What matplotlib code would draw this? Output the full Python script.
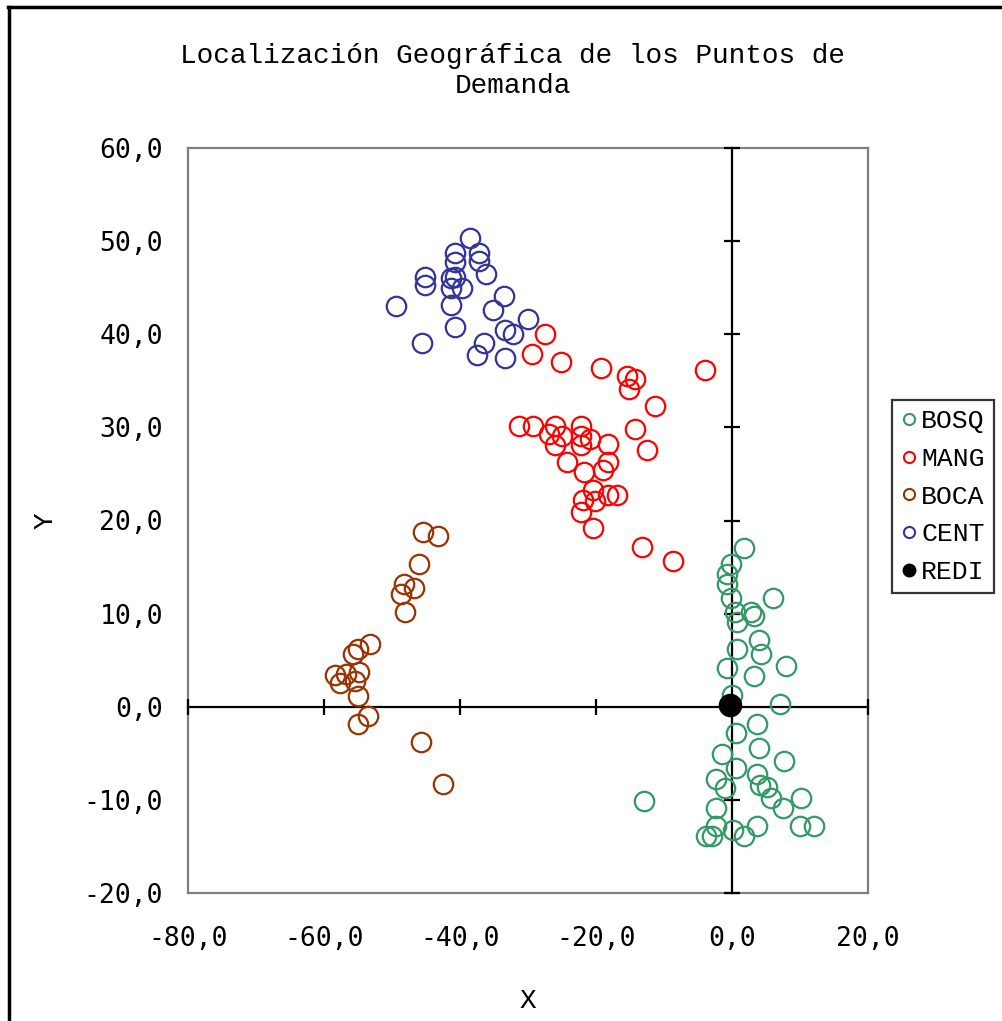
import matplotlib
matplotlib.use("Agg")
import matplotlib.pyplot as plt
from matplotlib.lines import Line2D
from matplotlib.ticker import FuncFormatter

plt.rcParams["font.family"] = ["DejaVu Sans Mono", "DejaVu Sans"]

# point coordinates
bosq_x = [1.8, -0.1, -0.8, -0.8, -0.1, 6.1, 0.5, 2.8, 3.3, 0.8, 3.9, 0.8, 4.3, 7.9,
          -0.7, 3.3, 0.0, 7.0, 3.7, 0.6, 4.0, -1.5, 7.6, 0.6, 3.7, -2.4, -1.1, 4.1,
          5.1, 5.8, 10.1, -13.0, 7.5, -2.4, -2.4, 3.7, 10.0, 12.0, 0.2, -3.8, -2.9, 1.7]
bosq_y = [17.0, 15.3, 14.3, 13.2, 11.7, 11.7, 10.2, 10.2, 9.7, 9.1, 7.2, 6.2, 5.7, 4.4,
          4.2, 3.3, 1.3, 0.3, -1.9, -2.8, -4.4, -5.1, -5.8, -6.6, -7.2, -7.8, -8.7, -8.4,
          -8.6, -9.8, -9.8, -10.1, -10.9, -10.9, -12.8, -12.8, -12.8, -12.8, -13.2, -13.9, -13.9, -13.9]

mang_x = [-27.5, -29.4, -25.1, -19.3, -15.5, -14.3, -15.1, -11.3, -4.0, -31.3, -29.2, -26.1,
          -26.9, -25.0, -26.1, -22.2, -22.2, -20.9, -22.2, -18.3, -14.3, -12.5, -24.2, -18.3,
          -18.9, -21.7, -20.5, -18.2, -16.9, -20.1, -21.9, -22.2, -20.5, -13.2, -8.7]
mang_y = [40.0, 37.9, 37.0, 36.4, 35.5, 35.2, 34.1, 32.3, 36.2, 30.2, 30.2, 30.1,
          29.3, 29.1, 28.1, 30.1, 29.1, 28.7, 28.1, 28.2, 29.8, 27.6, 26.3, 26.3,
          25.4, 25.2, 23.3, 22.7, 22.7, 22.1, 22.2, 20.9, 19.2, 17.2, 15.6]

boca_x = [-45.4, -43.2, -46.0, -48.2, -46.7, -48.7, -48.1, -53.2, -55.0, -55.7,
          -58.4, -57.7, -56.7, -54.8, -55.4, -55.0, -53.6, -55.0, -45.7, -42.5]
boca_y = [18.8, 18.3, 15.3, 13.2, 12.7, 12.1, 10.2, 6.7, 6.2, 5.7,
          3.4, 2.6, 3.5, 3.7, 2.8, 1.2, -1.0, -1.8, -3.8, -8.3]

cent_x = [-38.5, -40.7, -40.7, -37.2, -37.2, -36.2, -45.2, -45.2, -41.3, -40.7, -41.3, -39.7,
          -49.4, -41.3, -33.6, -35.1, -30.0, -40.7, -33.4, -32.2, -45.6, -36.4, -37.5, -33.4]
cent_y = [50.3, 48.7, 47.8, 48.7, 47.9, 46.5, 46.2, 45.3, 46.0, 46.2, 45.0, 45.0,
          43.0, 43.1, 44.1, 42.6, 41.6, 40.8, 40.5, 40.0, 39.1, 39.1, 37.8, 37.5]

redi_x = [-0.3]
redi_y = [0.2]

series = [
    ("BOSQ", bosq_x, bosq_y, "#339966"),
    ("MANG", mang_x, mang_y, "#ff0000"),
    ("BOCA", boca_x, boca_y, "#993300"),
    ("CENT", cent_x, cent_y, "#333399"),
]

x_ticks = [-80, -60, -40, -20, 0, 20]
y_ticks = [-20, -10, 0, 10, 20, 30, 40, 50, 60]

W, H = 1003, 1021
fig = plt.figure(figsize=(W / 100, H / 100), dpi=100)
pos = [188 / W, 1 - 893 / H, (868 - 188) / W, (893 - 148) / H]

ax = fig.add_axes(pos)
ax.set_xlim(-80, 20)
ax.set_ylim(-20, 60)
for sp in ax.spines.values():
    sp.set_color("#808080")
    sp.set_linewidth(1.6)
ax.set_xticks(x_ticks)
ax.set_yticks(y_ticks)
fmt = FuncFormatter(lambda v, p: f"{v:.1f}".replace(".", ","))
ax.xaxis.set_major_formatter(fmt)
ax.yaxis.set_major_formatter(fmt)
ax.tick_params(axis="y", length=0, labelsize=19, pad=18)
ax.tick_params(axis="x", length=0, labelsize=19, pad=24)

# axis lines through the origin with crossing ticks
ax2 = fig.add_axes(pos, sharex=ax, sharey=ax)
ax2.patch.set_visible(False)
for side in ("top", "right"):
    ax2.spines[side].set_visible(False)
for side in ("left", "bottom"):
    ax2.spines[side].set_position(("data", 0))
    ax2.spines[side].set_color("black")
    ax2.spines[side].set_linewidth(1.6)
ax2.tick_params(direction="inout", length=11, width=1.6, color="black",
                labelleft=False, labelbottom=False)

for name, xs, ys, color in series:
    ax2.plot(xs, ys, linestyle="none", marker="o", markersize=14,
             markerfacecolor="none", markeredgecolor=color, markeredgewidth=1.6,
             zorder=3, clip_on=False)
ax2.plot(redi_x, redi_y, linestyle="none", marker="o", markersize=16,
         color="black", zorder=4)

ax.set_xlabel("X", family="Liberation Mono", fontsize=20)
ax.xaxis.set_label_coords(0.5, -0.128)
ax.set_ylabel("Y", family="Liberation Mono", fontsize=20)
ax.yaxis.set_label_coords(-0.19, 0.5)

fig.text(513 / W, 1 - 43 / H, "Localización Geográfica de los Puntos de\nDemanda",
         ha="center", va="top", family="Liberation Mono", fontsize=20,
         linespacing=1.2)

handles = [Line2D([], [], linestyle="none", marker="o", markersize=8,
                  markerfacecolor="none", markeredgecolor=c, markeredgewidth=1.5)
           for _, _, _, c in series]
handles.append(Line2D([], [], linestyle="none", marker="o", markersize=9, color="black"))
labels = [s[0] for s in series] + ["REDI"]
leg = fig.legend(handles, labels, loc="upper left",
                 bbox_to_anchor=(892 / W, 1 - 400 / H), bbox_transform=fig.transFigure,
                 prop={"family": "Liberation Mono", "size": 19},
                 frameon=True, fancybox=False, borderaxespad=0, handlelength=0.6,
                 handletextpad=0.15, labelspacing=0.52, borderpad=0.35)
leg.get_frame().set_edgecolor("black")
leg.get_frame().set_linewidth(1.6)

# outer chart border (cut off on right and bottom)
fig.add_artist(Line2D([9 / W, 9 / W], [0, 1 - 7 / H], color="black", lw=2.5,
                      transform=fig.transFigure))
fig.add_artist(Line2D([8 / W, 1], [1 - 7 / H, 1 - 7 / H], color="black", lw=2.5,
                      transform=fig.transFigure))

fig.savefig("out.png", dpi=100)
